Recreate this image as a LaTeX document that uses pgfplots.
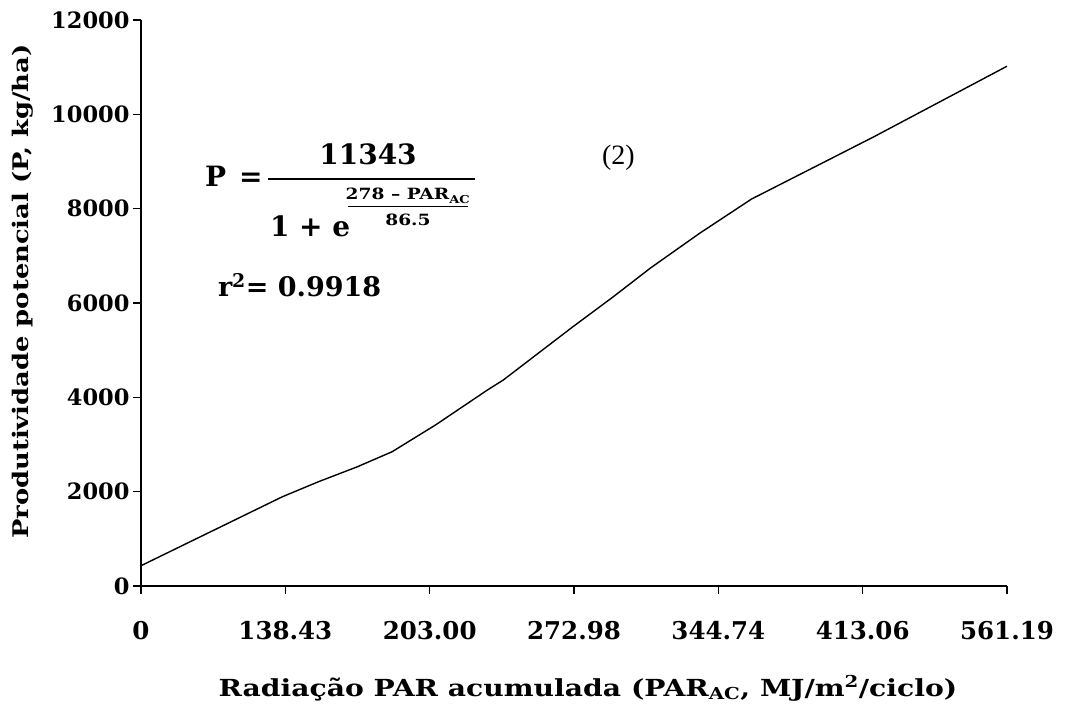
\documentclass[border=0pt]{standalone}
\usepackage{fontspec}
\setmainfont{DejaVu Serif}
\newfontfamily\widefont{DejaVu Serif}[FakeStretch=1.2, Ligatures=TeX]
\newfontfamily\timesfont{Liberation Serif}
\usepackage{pgfplots}
\pgfplotsset{compat=1.18}
\newcommand\fs[1]{\fontsize{#1}{#1}\selectfont}
\pgfplotstableread{
x y
0 430
0.98 1893
1.23 2211
1.50 2529
1.74 2847
2.04 3413
2.40 4155
2.51 4367
2.99 5491
3.27 6127
3.53 6742
3.87 7477
4.23 8204
5.07 9512
6.00 11020
}\datatable
\begin{document}
\begin{tikzpicture}
\useasboundingbox (-141pt,-129pt) rectangle (930pt,586pt);
\begin{axis}[
  at={(0pt,0pt)}, anchor=south west,
  scale only axis, width=866pt, height=566pt,
  xmin=0, xmax=6, ymin=0, ymax=12000,
  axis lines=left,
  axis line style={-, line width=1.5pt},
  xtick={0,1,2,3,4,5,6},
  xticklabels={0,138.43,203.00,272.98,344.74,413.06,561.19},
  ytick={0,2000,4000,6000,8000,10000,12000},
  tick align=outside, major tick length=8pt,
  tick style={line width=1.2pt, black},
  scaled y ticks=false,
  yticklabel style={font=\fs{22.5}\bfseries, /pgf/number format/1000 sep={}, /pgf/number format/assume math mode=true},
  xticklabel style={font=\fs{24.5}\bfseries, yshift=-24pt},
  ylabel={Produtividade potencial (P, kg/ha)},
  ylabel style={at={(axis description cs:-0.137,0.52)}, anchor=center, font=\widefont\fs{21.5}\bfseries},
  xlabel={Radiação PAR acumulada (PAR\textsubscript{AC}, MJ/m\textsuperscript{2}/ciclo)},
  xlabel style={at={(axis description cs:0.516,-0.180)}, anchor=center, font=\widefont\fs{23.5}\bfseries},
]
\addplot[black, line width=1.4pt, no marks] table[x=x, y=y] {\datatable};
\end{axis}
% formula (coordinates: pt = px - 141, 586 - py)
\begin{scope}[every node/.style={inner sep=0pt, outer sep=0pt}]
\node[anchor=base west, font=\fs{28}\bfseries] at (64pt,399pt) {P};
\node[anchor=base west, font=\fs{28}\bfseries] at (98pt,399pt) {=};
\draw[line width=1.5pt] (127pt,407pt) -- (334pt,407pt);
\node[anchor=base, font=\fs{28}\bfseries] at (227pt,421pt) {11343};
\node[anchor=base west, font=\fs{28}\bfseries] at (129pt,349pt) {1 + e};
\node[anchor=base, font=\widefont\fs{15.5}\bfseries] at (267pt,386pt) {278 – PAR\textsubscript{AC}};
\draw[line width=1pt] (207pt,379pt) -- (327pt,379pt);
\node[anchor=base, font=\widefont\fs{15.5}\bfseries] at (267pt,360pt) {86.5};
\node[anchor=base west, font=\fs{27}\bfseries] at (77pt,289pt) {r\textsuperscript{2}= 0.9918};
\node[anchor=base west, font=\fs{28}\timesfont] at (461pt,421pt) {(2)};
\end{scope}
\end{tikzpicture}
\end{document}
